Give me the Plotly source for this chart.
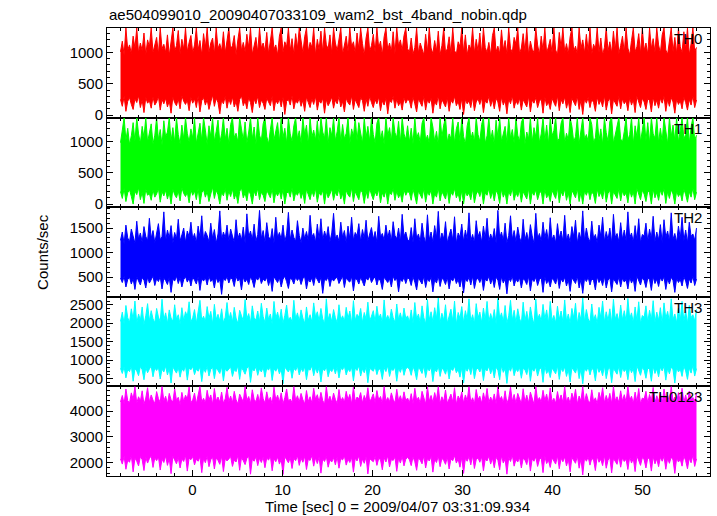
import numpy as np
import plotly.graph_objects as go
from plotly.subplots import make_subplots

title_text = "ae504099010_20090407033109_wam2_bst_4band_nobin.qdp"
x_label = "Time [sec] 0 = 2009/04/07 03:31:09.934"
y_label = "Counts/sec"
band_names = ["TH0", "TH1", "TH2", "TH3", "TH0123"]
band_colors = ["#ff0000", "#00ff00", "#0000ff", "#00ffff", "#ff00ff"]

# time span of the light curve (s)
t_start = -8.0
t_end = 56.0

# per-bin upper / lower envelopes of each light curve (counts/sec)
th0_hi = [1010, 1180, 960, 1390, 1040, 1120, 980, 1260, 1070, 1390, 990, 1150, 1030, 1310, 960, 1200, 1090, 1390, 1000, 1140,
          1240, 970, 1390, 1060, 1130, 1000, 1280, 950, 1170, 1390, 1020, 1110, 1350, 980, 1210, 1050, 1390, 1010, 1160, 1270,
          990, 1120, 1390, 1040, 1190, 960, 1300, 1080, 1390, 1000, 1150, 1230, 970, 1390, 1060, 1140, 1020, 1330, 990, 1180,
          1390, 1050, 1110, 1270, 960, 1200, 1390, 1030, 1160, 1010, 1290, 1080, 1390, 970, 1130, 1240, 1000, 1390, 1070, 1150,
          1020, 1320, 980, 1190, 1390, 1050, 1120, 960, 1260, 1390, 1000, 1170, 1090, 1390, 1030, 1220, 970, 1300, 1060, 1390,
          1140, 990, 1250, 1390, 1010, 1160, 1080, 1390, 960, 1210, 1040, 1340, 1000, 1390, 1120, 1060, 1280, 980, 1390, 1150,
          1030, 1200, 1390, 970, 1130, 1260, 1010, 1390, 1090, 1170, 990, 1310, 1050, 1390, 1140, 960, 1230, 1390, 1020, 1110,
          1290, 1000, 1390, 1070, 1180, 960, 1250, 1390, 1040, 1150, 1010, 1330, 980, 1390, 1100, 1200, 1030, 1270, 1390, 1060,
          1000, 1230, 970, 1080, 1390, 990, 1150, 1040, 960, 1290, 1010, 1390, 1070, 980, 1190, 1020, 1340, 960, 1110, 1390,
          1000, 1060, 1250, 980, 1390, 1030, 970, 1170, 1090, 1390, 1000, 1280, 960, 1120, 1050, 1390, 990, 1210, 1020, 1310,
          970, 1390, 1080, 1000, 1160, 960, 1270, 1390, 1010, 1100, 980, 1360, 1040, 1190, 970, 1390, 1060, 1000, 1240, 1130,
          1390, 980, 1070, 1300, 1010, 1390, 960, 1180, 1050, 1000, 1390, 1120, 970, 1260, 1030, 1390, 990, 1090, 1210, 1000,
          1390, 1040, 960, 1320, 1080, 1390, 1000, 1140, 980, 1250, 1390, 1020, 1100, 970, 1390, 1060, 1200, 990, 1290, 1010,
          1390, 970, 1130, 1050, 1390, 1000, 1230, 960, 1080, 1390, 1020, 1170, 990, 1340, 1040, 1390, 980, 1110, 1260, 1000,
          1390, 1070, 960, 1190, 1390, 1010, 1090, 1300, 980, 1390, 1030, 1150, 970, 1390, 1060, 1220, 1000, 1390, 1120, 990,
          1280, 1390, 1040, 970, 1170, 1390, 1010, 1240, 980, 1390, 1090, 1000, 1330, 1050, 1390, 960, 1140, 1390, 1020, 1080]
th0_lo = [250, 140, 300, 60, 220, 280, 170, 90, 260, 200, 310, 120, 240, 40, 280, 190, 230, 110, 290, 160,
          210, 300, 80, 250, 180, 270, 130, 230, 30, 290, 200, 150, 260, 100, 310, 220, 170, 240, 70, 280,
          190, 260, 120, 300, 50, 230, 280, 160, 250, 90, 210, 320, 140, 270, 200, 20, 240, 180, 300, 110,
          260, 170, 290, 130, 220, 60, 250, 310, 150, 230, 100, 280, 200, 40, 260, 180, 300, 120, 240, 190,
          90, 270, 210, 150, 300, 70, 240, 180, 260, 130, 290, 10, 220, 250, 160, 310, 100, 230, 190, 270,
          140, 240, 60, 290, 200, 120, 260, 170, 300, 80, 230, 190, 270, 30, 250, 150, 210, 290, 110, 240,
          180, 300, 130, 220, 50, 270, 200, 160, 310, 90, 250, 180, 120, 280, 230, 60, 260, 140, 300, 200,
          120, 250, 180, 290, 70, 230, 160, 270, 20, 240, 200, 300, 110, 260, 150, 220, 80, 280, 190, 250,
          230, 110, 290, 180, 50, 260, 210, 140, 300, 80, 240, 190, 270, 30, 220, 160, 310, 100, 250, 200,
          130, 280, 60, 240, 190, 300, 150, 220, 90, 270, 10, 250, 180, 230, 120, 290, 70, 210, 260, 170,
          280, 40, 230, 190, 300, 140, 250, 100, 270, 210, 60, 290, 160, 240, 20, 260, 180, 310, 110, 230,
          170, 270, 80, 250, 200, 130, 300, 50, 240, 190, 280, 120, 220, 260, 30, 290, 150, 210, 90, 270,
          200, 140, 310, 70, 250, 180, 290, 110, 230, 40, 270, 200, 150, 300, 90, 240, 10, 260, 190, 280,
          120, 250, 200, 60, 290, 170, 240, 130, 310, 80, 220, 270, 20, 250, 190, 140, 300, 100, 260, 180,
          230, 70, 280, 160, 250, 40, 300, 190, 120, 270, 210, 90, 260, 230, 50, 290, 150, 240, 110, 270,
          190, 300, 60, 250, 140, 280, 210, 30, 260, 170, 230, 100, 290, 200, 80, 250, 160, 310, 120, 240]

th1_hi = [980, 1150, 1380, 1020, 1210, 950, 1090, 1300, 1000, 1380, 1120, 970, 1240, 1060, 1380, 990, 1170, 1280, 960, 1100,
          1380, 1030, 1190, 940, 1330, 1070, 1150, 1380, 1000, 1220, 980, 1380, 1110, 960, 1260, 1040, 1380, 1130, 990, 1200,
          1050, 1380, 970, 1140, 1290, 1010, 1380, 1180, 950, 1250, 1080, 1380, 1000, 1160, 1340, 980, 1120, 1380, 1030, 1210,
          960, 1270, 1380, 1060, 1130, 990, 1380, 1200, 1020, 1310, 970, 1150, 1380, 1040, 1230, 950, 1380, 1100, 1010, 1280,
          1380, 1080, 960, 1190, 1380, 1020, 1140, 1300, 990, 1380, 1060, 1210, 970, 1380, 1120, 1000, 1250, 1380, 1040, 1170,
          980, 1380, 1110, 1260, 950, 1380, 1070, 1180, 1020, 1330, 990, 1380, 1150, 1050, 1380, 970, 1220, 1090, 1380, 1010,
          1160, 1380, 990, 1270, 1040, 1130, 1380, 960, 1200, 1080, 1380, 1010, 1300, 1140, 970, 1380, 1060, 1240, 1000, 1380,
          1110, 980, 1290, 1380, 1030, 1170, 950, 1380, 1090, 1220, 1000, 1380, 1140, 1060, 1320, 980, 1380, 1120, 1030, 1250,
          990, 1210, 960, 1380, 1050, 1140, 980, 1290, 1380, 1010, 1100, 970, 1380, 1230, 1000, 1160, 950, 1380, 1070, 1260,
          1380, 990, 1120, 1040, 1380, 970, 1200, 1310, 1000, 1380, 1080, 960, 1250, 1380, 1030, 1150, 990, 1380, 1110, 1000,
          1270, 1380, 970, 1090, 1380, 1020, 1180, 950, 1340, 1060, 1380, 1000, 1130, 1240, 980, 1380, 1050, 1190, 970, 1380,
          1100, 1000, 1300, 1380, 960, 1150, 1040, 1380, 990, 1220, 1070, 1380, 980, 1120, 1380, 1010, 1260, 960, 1380, 1090,
          1170, 1380, 1000, 1050, 1290, 1380, 970, 1130, 1020, 1380, 1240, 990, 1080, 1380, 960, 1180, 1380, 1030, 1110, 1000,
          1380, 1270, 980, 1060, 1380, 1010, 1200, 950, 1380, 1140, 1000, 1320, 1380, 970, 1090, 1230, 1380, 1040, 990, 1160,
          1380, 1020, 1110, 1380, 960, 1250, 1070, 1380, 990, 1180, 1380, 1010, 1300, 970, 1380, 1120, 1050, 1380, 980, 1210,
          1000, 1380, 1140, 960, 1380, 1080, 1260, 1010, 1380, 990, 1170, 1380, 1040, 1110, 1380, 970, 1230, 1380, 1020, 1100]
th1_lo = [200, 90, 250, 40, 180, 230, 120, 0, 210, 150, 260, 70, 190, 10, 240, 140, 170, 60, 230, 110,
          160, 250, 30, 200, 130, 220, 80, 190, 0, 240, 150, 100, 210, 50, 260, 170, 120, 190, 20, 230,
          140, 210, 70, 250, 0, 180, 230, 110, 200, 40, 160, 270, 90, 220, 150, 0, 190, 130, 250, 60,
          210, 120, 240, 80, 170, 10, 200, 260, 100, 180, 50, 230, 150, 0, 210, 130, 250, 70, 190, 140,
          40, 220, 160, 100, 250, 20, 190, 130, 210, 80, 240, 0, 170, 200, 110, 260, 50, 180, 140, 220,
          90, 190, 10, 240, 150, 70, 210, 120, 250, 30, 180, 140, 220, 0, 200, 100, 160, 240, 60, 190,
          130, 250, 80, 170, 0, 220, 150, 110, 260, 40, 200, 130, 70, 230, 180, 10, 210, 90, 250, 150,
          70, 200, 130, 240, 20, 180, 110, 220, 0, 190, 150, 250, 60, 210, 100, 170, 30, 230, 140, 200,
          180, 60, 240, 130, 0, 210, 160, 90, 250, 30, 190, 140, 230, 0, 170, 110, 260, 50, 200, 150,
          80, 230, 10, 190, 140, 250, 100, 170, 40, 220, 0, 200, 130, 180, 70, 240, 20, 160, 210, 120,
          230, 0, 180, 140, 250, 90, 200, 50, 220, 160, 10, 240, 110, 190, 0, 210, 130, 260, 60, 180,
          120, 220, 30, 200, 150, 80, 250, 0, 190, 140, 230, 70, 170, 210, 0, 240, 100, 160, 40, 220,
          150, 90, 260, 20, 200, 130, 240, 60, 180, 0, 220, 150, 100, 250, 40, 190, 0, 210, 140, 230,
          70, 200, 150, 10, 240, 120, 190, 80, 260, 30, 170, 220, 0, 200, 140, 90, 250, 50, 210, 130,
          180, 20, 230, 110, 200, 0, 250, 140, 70, 220, 160, 40, 210, 180, 0, 240, 100, 190, 60, 220,
          140, 250, 10, 200, 90, 230, 160, 0, 210, 120, 180, 50, 240, 150, 30, 200, 110, 260, 70, 190]

th2_hi = [1250, 1420, 1180, 1560, 1300, 1220, 1480, 1350, 1190, 1640, 1270, 1400, 1210, 1530, 1330, 1240, 1700, 1290, 1450, 1200,
          1380, 1590, 1260, 1330, 1830, 1230, 1460, 1300, 1550, 1190, 1410, 1280, 1680, 1240, 1360, 1500, 1210, 1440, 1320, 1620,
          1270, 1390, 1200, 1540, 1310, 1750, 1250, 1430, 1350, 1220, 1600, 1290, 1470, 1190, 1380, 1850, 1260, 1420, 1300, 1560,
          1230, 1480, 1340, 1210, 1670, 1280, 1400, 1250, 1520, 1190, 1790, 1320, 1440, 1260, 1580, 1230, 1370, 1860, 1290, 1450,
          1210, 1610, 1330, 1250, 1490, 1190, 1720, 1300, 1410, 1270, 1560, 1220, 1380, 1820, 1260, 1460, 1310, 1230, 1650, 1350,
          1200, 1500, 1280, 1430, 1240, 1760, 1320, 1390, 1210, 1580, 1270, 1690, 1250, 1440, 1300, 1530, 1220, 1400, 1800, 1290,
          1360, 1230, 1620, 1310, 1450, 1200, 1540, 1280, 1720, 1250, 1410, 1340, 1590, 1220, 1470, 1290, 1660, 1240, 1380, 1510,
          1270, 1430, 1210, 1740, 1320, 1390, 1250, 1560, 1300, 1460, 1230, 1630, 1350, 1280, 1500, 1210, 1780, 1330, 1420, 1260,
          1240, 1510, 1200, 1690, 1290, 1380, 1220, 1600, 1330, 1190, 1770, 1260, 1420, 1210, 1550, 1300, 1840, 1230, 1400, 1280,
          1630, 1200, 1350, 1480, 1250, 1730, 1190, 1400, 1310, 1580, 1220, 1460, 1270, 1810, 1240, 1370, 1200, 1650, 1320, 1430,
          1210, 1540, 1290, 1700, 1230, 1380, 1260, 1490, 1190, 1860, 1300, 1420, 1240, 1600, 1200, 1350, 1750, 1270, 1450, 1220,
          1520, 1310, 1200, 1680, 1250, 1410, 1220, 1570, 1340, 1190, 1800, 1280, 1390, 1230, 1620, 1300, 1470, 1210, 1710, 1260,
          1360, 1200, 1590, 1290, 1440, 1230, 1760, 1250, 1380, 1210, 1530, 1320, 1660, 1190, 1410, 1270, 1850, 1240, 1500, 1300,
          1220, 1640, 1280, 1370, 1200, 1560, 1330, 1720, 1230, 1430, 1260, 1500, 1190, 1780, 1310, 1390, 1220, 1610, 1270, 1460,
          1240, 1830, 1300, 1400, 1210, 1550, 1250, 1690, 1200, 1370, 1340, 1600, 1230, 1480, 1280, 1740, 1220, 1420, 1260, 1570,
          1200, 1670, 1310, 1440, 1230, 1810, 1270, 1390, 1210, 1540, 1290, 1720, 1240, 1460, 1200, 1620, 1330, 1380, 1250, 1500]
th2_lo = [480, 390, 520, 300, 450, 500, 360, 470, 250, 510, 420, 340, 490, 440, 280, 500, 380, 460, 520, 330,
          470, 410, 510, 260, 480, 430, 350, 500, 190, 460, 420, 520, 370, 490, 300, 450, 510, 400, 480, 320,
          500, 440, 360, 510, 230, 470, 420, 490, 340, 520, 410, 460, 280, 500, 390, 450, 150, 480, 430, 510,
          380, 490, 450, 310, 520, 420, 470, 240, 500, 400, 460, 350, 510, 430, 290, 480, 440, 520, 370, 460,
          420, 500, 330, 470, 210, 510, 440, 390, 490, 300, 460, 520, 410, 270, 480, 450, 360, 500, 430, 490,
          350, 470, 510, 260, 450, 400, 490, 330, 520, 440, 380, 500, 170, 460, 430, 510, 310, 480, 420, 470,
          500, 370, 460, 520, 290, 490, 430, 400, 510, 220, 470, 450, 360, 500, 410, 320, 480, 440, 520, 390,
          460, 510, 340, 480, 420, 250, 500, 450, 390, 470, 300, 520, 430, 480, 200, 460, 410, 500, 370, 490,
          460, 330, 510, 400, 240, 490, 430, 360, 520, 290, 470, 410, 500, 200, 450, 380, 520, 310, 480, 440,
          350, 500, 260, 470, 420, 510, 370, 450, 300, 490, 180, 470, 410, 500, 340, 520, 270, 440, 480, 390,
          500, 230, 460, 420, 520, 360, 480, 290, 500, 440, 250, 510, 380, 470, 160, 490, 410, 520, 320, 460,
          400, 490, 280, 470, 430, 350, 520, 220, 460, 410, 500, 330, 450, 490, 190, 510, 370, 440, 300, 480,
          430, 360, 520, 270, 470, 400, 500, 320, 450, 210, 490, 430, 370, 520, 280, 460, 170, 480, 410, 500,
          340, 470, 430, 240, 510, 390, 460, 330, 520, 280, 440, 490, 200, 470, 420, 350, 510, 300, 480, 400,
          450, 260, 500, 380, 470, 210, 520, 410, 340, 490, 430, 290, 480, 450, 230, 510, 370, 460, 310, 490,
          420, 510, 250, 470, 360, 500, 430, 190, 480, 390, 450, 320, 510, 420, 270, 470, 380, 520, 330, 460]

th3_hi = [2050, 2300, 1980, 2480, 2150, 2020, 2390, 2100, 2600, 2000, 2250, 2080, 2440, 1960, 2200, 2530, 2060, 2340, 2120, 2010,
          2400, 2170, 2040, 2650, 2090, 2280, 1990, 2360, 2140, 2050, 2500, 2110, 2230, 1970, 2420, 2070, 2310, 2180, 2580, 2030,
          2150, 2370, 2000, 2270, 2620, 2080, 2190, 2040, 2450, 2130, 2320, 1980, 2510, 2100, 2240, 2060, 2390, 2010, 2160, 2560,
          2090, 2290, 2030, 2430, 2140, 1990, 2350, 2200, 2070, 2640, 2120, 2260, 2010, 2470, 2150, 2080, 2330, 2040, 2540, 2180,
          2020, 2410, 2100, 2250, 1970, 2590, 2130, 2300, 2060, 2380, 2000, 2210, 2490, 2090, 2160, 2040, 2620, 2110, 2280, 2050,
          2360, 2140, 1990, 2440, 2080, 2230, 2030, 2550, 2170, 2310, 2060, 2400, 2120, 1980, 2660, 2100, 2260, 2040, 2370, 2150,
          2010, 2500, 2090, 2200, 2050, 2430, 2130, 2330, 1990, 2610, 2080, 2240, 2160, 2400, 2020, 2290, 2110, 2570, 2060, 2190,
          2340, 2040, 2460, 2120, 2250, 2000, 2630, 2100, 2210, 2070, 2380, 2150, 2020, 2520, 2090, 2280, 2050, 2410, 2130, 2200,
          2030, 2360, 1990, 2560, 2110, 2250, 2010, 2470, 2150, 1980, 2640, 2090, 2310, 2040, 2420, 2120, 2680, 2020, 2270, 2080,
          2500, 2000, 2190, 2380, 2060, 2600, 1970, 2290, 2130, 2450, 2010, 2340, 2100, 2660, 2050, 2230, 1990, 2530, 2140, 2300,
          2020, 2410, 2090, 2590, 2040, 2260, 2070, 2370, 1980, 2670, 2120, 2280, 2030, 2480, 2000, 2200, 2620, 2080, 2350, 2010,
          2390, 2130, 1990, 2570, 2060, 2320, 2020, 2440, 2160, 1970, 2650, 2100, 2240, 2050, 2510, 2110, 2360, 2000, 2590, 2070,
          2210, 2010, 2460, 2100, 2330, 2040, 2630, 2060, 2250, 2000, 2400, 2140, 2540, 1980, 2290, 2090, 2680, 2030, 2370, 2120,
          2020, 2520, 2080, 2230, 1990, 2430, 2150, 2600, 2030, 2310, 2070, 2390, 2000, 2650, 2110, 2260, 2040, 2490, 2090, 2340,
          2050, 2670, 2120, 2280, 2010, 2440, 2060, 2580, 1990, 2210, 2160, 2470, 2030, 2350, 2090, 2610, 2020, 2300, 2080, 2420,
          2000, 2550, 2130, 2320, 2040, 2660, 2100, 2250, 2010, 2410, 2070, 2590, 2050, 2340, 1990, 2480, 2150, 2230, 2060, 2380]
th3_lo = [780, 640, 820, 520, 750, 690, 850, 430, 770, 710, 580, 830, 740, 470, 800, 660, 760, 840, 550, 790,
          720, 810, 490, 760, 680, 840, 600, 780, 380, 820, 730, 650, 800, 540, 770, 700, 850, 460, 790, 740,
          830, 610, 760, 700, 820, 420, 780, 670, 840, 570, 750, 810, 500, 790, 720, 640, 830, 440, 770, 700,
          760, 820, 560, 740, 690, 850, 480, 800, 720, 620, 780, 840, 400, 760, 710, 830, 590, 770, 680, 810,
          540, 790, 730, 840, 450, 770, 700, 810, 630, 760, 360, 820, 740, 680, 800, 510, 780, 720, 840, 600,
          780, 690, 820, 470, 760, 730, 850, 580, 790, 650, 810, 410, 770, 710, 830, 550, 750, 690, 800, 630,
          820, 520, 780, 740, 840, 600, 760, 690, 810, 440, 790, 720, 850, 570, 770, 660, 820, 390, 780, 730,
          700, 830, 610, 770, 740, 480, 800, 690, 850, 560, 760, 720, 820, 430, 790, 670, 840, 590, 770, 800,
          760, 590, 830, 700, 470, 800, 740, 640, 850, 530, 780, 710, 820, 420, 760, 680, 840, 560, 790, 730,
          620, 810, 490, 770, 720, 840, 660, 750, 540, 800, 380, 780, 700, 820, 610, 850, 500, 740, 790, 680,
          820, 450, 760, 710, 840, 630, 790, 520, 810, 730, 470, 850, 670, 770, 370, 800, 700, 860, 580, 760,
          690, 800, 510, 780, 740, 610, 850, 430, 770, 700, 820, 570, 750, 800, 400, 840, 640, 730, 530, 790,
          720, 630, 850, 480, 780, 690, 820, 560, 750, 410, 800, 720, 650, 840, 500, 770, 360, 790, 700, 820,
          600, 780, 730, 440, 830, 670, 760, 580, 850, 500, 740, 800, 390, 780, 710, 620, 840, 530, 790, 690,
          760, 470, 820, 660, 780, 420, 850, 700, 590, 800, 730, 510, 790, 750, 430, 830, 640, 770, 550, 810,
          710, 840, 460, 780, 630, 820, 740, 380, 800, 680, 760, 560, 840, 710, 480, 790, 650, 860, 570, 770]

th0123_hi = [4350, 4600, 4280, 4850, 4400, 4310, 4700, 4450, 4950, 4300, 4550, 4380, 4780, 4260, 4500, 4900, 4340, 4620, 4420, 4290,
             4750, 4480, 4330, 4950, 4390, 4570, 4270, 4680, 4440, 4350, 4860, 4410, 4530, 4250, 4720, 4370, 4610, 4460, 4930, 4320,
             4430, 4690, 4280, 4560, 4950, 4360, 4490, 4310, 4800, 4420, 4620, 4260, 4870, 4390, 4540, 4340, 4730, 4300, 4470, 4910,
             4370, 4580, 4320, 4760, 4440, 4270, 4650, 4500, 4350, 4950, 4410, 4560, 4290, 4820, 4450, 4360, 4640, 4330, 4890, 4480,
             4300, 4740, 4390, 4530, 4260, 4920, 4420, 4610, 4340, 4700, 4280, 4510, 4850, 4380, 4460, 4320, 4950, 4400, 4590, 4350,
             4680, 4440, 4270, 4790, 4370, 4550, 4310, 4880, 4460, 4630, 4350, 4720, 4410, 4260, 4950, 4390, 4570, 4330, 4690, 4450,
             4290, 4830, 4380, 4520, 4340, 4760, 4430, 4640, 4270, 4930, 4360, 4540, 4470, 4710, 4310, 4600, 4400, 4900, 4350, 4490,
             4660, 4330, 4790, 4420, 4560, 4290, 4950, 4380, 4520, 4360, 4700, 4450, 4310, 4840, 4390, 4590, 4340, 4740, 4410, 4500,
             4320, 4670, 4280, 4880, 4410, 4530, 4300, 4760, 4450, 4270, 4950, 4380, 4600, 4330, 4710, 4420, 4950, 4290, 4550, 4370,
             4810, 4300, 4470, 4650, 4350, 4900, 4260, 4580, 4430, 4740, 4310, 4620, 4390, 4950, 4340, 4510, 4280, 4830, 4440, 4570,
             4300, 4700, 4380, 4870, 4330, 4540, 4360, 4660, 4270, 4950, 4420, 4560, 4310, 4780, 4290, 4490, 4920, 4370, 4640, 4300,
             4680, 4430, 4280, 4860, 4350, 4610, 4310, 4730, 4460, 4260, 4950, 4400, 4520, 4340, 4800, 4410, 4650, 4290, 4890, 4360,
             4490, 4300, 4750, 4390, 4620, 4330, 4950, 4350, 4540, 4290, 4690, 4440, 4840, 4270, 4580, 4380, 4950, 4320, 4670, 4410,
             4310, 4820, 4370, 4510, 4280, 4720, 4450, 4900, 4320, 4600, 4360, 4680, 4290, 4950, 4400, 4550, 4330, 4780, 4380, 4630,
             4340, 4950, 4420, 4570, 4300, 4730, 4350, 4870, 4280, 4500, 4460, 4760, 4320, 4640, 4390, 4910, 4310, 4590, 4370, 4700,
             4290, 4850, 4430, 4610, 4330, 4950, 4390, 4540, 4300, 4710, 4360, 4880, 4340, 4620, 4280, 4770, 4450, 4520, 4350, 4680]
th0123_lo = [2150, 1950, 2250, 1750, 2100, 2020, 2280, 1650, 2180, 2060, 1880, 2240, 2120, 1700, 2200, 1990, 2160, 2270, 1820, 2190,
             2080, 2230, 1720, 2140, 2010, 2260, 1900, 2170, 1580, 2250, 2110, 1960, 2200, 1800, 2150, 2050, 2280, 1680, 2180, 2120,
             2240, 1920, 2140, 2060, 2230, 1620, 2170, 2000, 2260, 1850, 2120, 2210, 1760, 2190, 2090, 1940, 2250, 1660, 2160, 2070,
             2150, 2240, 1860, 2110, 2030, 2280, 1710, 2200, 2080, 1930, 2170, 2250, 1560, 2140, 2060, 2230, 1890, 2180, 2010, 2220,
             1810, 2190, 2100, 2260, 1690, 2160, 2040, 2220, 1950, 2130, 1550, 2240, 2120, 2000, 2200, 1780, 2170, 2080, 2270, 1900,
             2180, 2020, 2250, 1740, 2140, 2090, 2280, 1870, 2190, 1970, 2220, 1600, 2150, 2050, 2240, 1830, 2110, 2030, 2200, 1920,
             2230, 1790, 2170, 2110, 2260, 1910, 2140, 2010, 2210, 1640, 2180, 2070, 2270, 1860, 2150, 1980, 2230, 1570, 2160, 2100,
             2040, 2240, 1900, 2170, 2120, 1730, 2200, 2030, 2270, 1840, 2130, 2090, 2220, 1670, 2180, 1990, 2250, 1880, 2140, 2210,
             2120, 1890, 2230, 2040, 1710, 2190, 2100, 1960, 2270, 1800, 2160, 2070, 2240, 1640, 2130, 2010, 2260, 1850, 2180, 2090,
             1940, 2220, 1760, 2150, 2080, 2280, 1990, 2140, 1830, 2210, 1590, 2170, 2060, 2240, 1920, 2280, 1780, 2120, 2190, 2020,
             2230, 1690, 2140, 2070, 2260, 1950, 2180, 1810, 2210, 2100, 1730, 2270, 1990, 2150, 1560, 2200, 2050, 2290, 1870, 2130,
             2030, 2200, 1800, 2170, 2110, 1930, 2280, 1680, 2150, 2060, 2230, 1860, 2120, 2200, 1620, 2250, 1970, 2100, 1820, 2190,
             2080, 1950, 2270, 1770, 2180, 2040, 2230, 1880, 2140, 1650, 2200, 2090, 1980, 2260, 1790, 2160, 1530, 2190, 2060, 2220,
             1910, 2170, 2110, 1700, 2250, 2020, 2140, 1890, 2280, 1790, 2100, 2210, 1610, 2170, 2070, 1940, 2260, 1830, 2190, 2050,
             2140, 1740, 2230, 1990, 2170, 1660, 2270, 2080, 1900, 2200, 2120, 1800, 2190, 2150, 1680, 2240, 1960, 2160, 1850, 2210,
             2060, 2250, 1750, 2170, 1980, 2220, 2110, 1590, 2190, 2030, 2140, 1870, 2260, 2080, 1770, 2180, 2000, 2290, 1860, 2150]

y_ranges = [[-40, 1390], [-50, 1380], [100, 1925], [290, 2715], [1490, 4950]]
y_dticks = [500, 500, 500, 500, 1000]
y_minor = [100, 100, 100, 100, 200]

uppers = [th0_hi, th1_hi, th2_hi, th3_hi, th0123_hi]
lowers = [th0_lo, th1_lo, th2_lo, th3_lo, th0123_lo]

FONT = "Liberation Sans, Arial, Helvetica, sans-serif"

fig = make_subplots(rows=5, cols=1, shared_xaxes=True, vertical_spacing=0)

for i, col in enumerate(band_colors):
    hi = uppers[i]
    lo = lowers[i]
    t = np.linspace(t_start, t_end, len(hi))
    fig.add_trace(go.Scatter(x=t, y=lo, mode="lines", line=dict(color=col, width=1),
                             showlegend=False, hoverinfo="skip"), row=i + 1, col=1)
    fig.add_trace(go.Scatter(x=t, y=hi, mode="lines", line=dict(color=col, width=1),
                             fill="tonexty", fillcolor=col,
                             showlegend=False, hoverinfo="skip"), row=i + 1, col=1)
    fig.update_yaxes(range=y_ranges[i], dtick=y_dticks[i], tick0=0,
                     minor=dict(ticks="inside", ticklen=3, dtick=y_minor[i], tick0=0, tickcolor="black"),
                     row=i + 1, col=1)
    sfx = "" if i == 0 else str(i + 1)
    fig.add_annotation(text=band_names[i], xref=f"x{sfx} domain", yref=f"y{sfx} domain",
                       x=0.99, y=1.0, xanchor="right", yanchor="top", showarrow=False,
                       font=dict(size=15, color="black", family=FONT))

fig.update_yaxes(showline=True, linecolor="black", linewidth=1, mirror="allticks",
                 ticks="inside", ticklen=6, tickcolor="black", showgrid=False, zeroline=False,
                 tickfont=dict(size=15, color="black", family=FONT))
fig.update_xaxes(range=[-9.5, 57.5], dtick=10, tick0=0, showline=True, linecolor="black",
                 linewidth=1, mirror="allticks", ticks="inside", ticklen=6, tickcolor="black",
                 showgrid=False, zeroline=False,
                 minor=dict(ticks="inside", ticklen=3, dtick=2, tick0=0, tickcolor="black"),
                 tickfont=dict(size=15, color="black", family=FONT))

fig.add_annotation(text=title_text, xref="paper", yref="paper", x=0, y=1, xanchor="left",
                   yanchor="bottom", yshift=3, showarrow=False,
                   font=dict(size=15, color="black", family=FONT))
fig.add_annotation(text=y_label, xref="paper", yref="paper", x=-0.108, y=0.5, textangle=-90,
                   xanchor="center", yanchor="middle", showarrow=False,
                   font=dict(size=15, color="black", family=FONT))
fig.add_annotation(text=x_label, xref="paper", yref="paper", x=0.482, y=-0.069,
                   xanchor="center", yanchor="middle", showarrow=False,
                   font=dict(size=15, color="black", family=FONT))

fig.update_layout(width=717, height=516, margin=dict(l=107, r=7, t=28, b=40),
                  plot_bgcolor="white", paper_bgcolor="white",
                  font=dict(family=FONT, color="black"))

fig.write_html("out.html", config={"displayModeBar": False},
               post_script="document.body.style.margin='0';document.body.style.padding='0';")
